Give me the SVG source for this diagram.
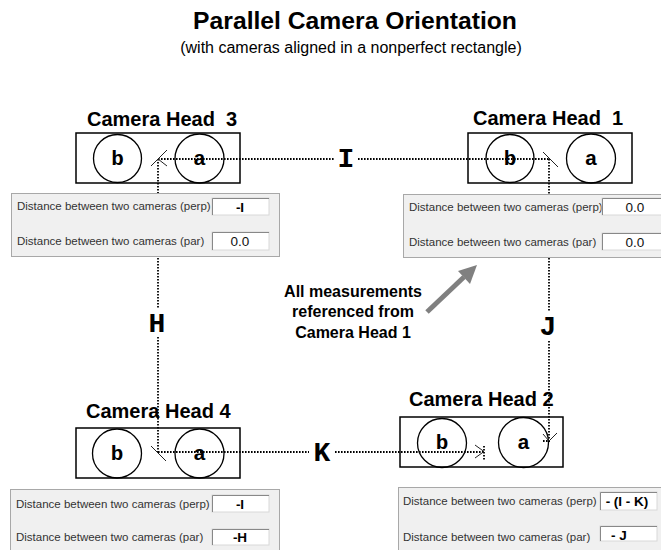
<svg xmlns="http://www.w3.org/2000/svg" width="661" height="550" viewBox="0 0 661 550">
<style>
.title{font-family:"Liberation Sans",Arial,sans-serif;font-weight:bold;font-size:24.7px;fill:#000;text-anchor:middle}
.sub{font-family:"Liberation Sans",Arial,sans-serif;font-size:16px;fill:#000;text-anchor:middle}
.head{font-family:"Liberation Sans",Arial,sans-serif;font-weight:bold;font-size:20px;fill:#000}
.box{fill:none;stroke:#000;stroke-width:1.5}
.cam{fill:none;stroke:#000;stroke-width:1.3}
.lens{font-family:"Liberation Mono","Courier New",monospace;font-weight:bold;font-size:21px;fill:#000;text-anchor:middle}
.dim{font-family:"Liberation Mono","Courier New",monospace;font-weight:bold;font-size:28px;fill:#000;text-anchor:middle}
.dot{fill:none;stroke:#000;stroke-width:1.8;stroke-dasharray:1.6 1.4}
.tip{fill:none;stroke:#222;stroke-width:1}
.panel{fill:#f0f0f0;stroke:#a8a8a8;stroke-width:1}
.lbl{font-family:"Liberation Sans",Arial,sans-serif;font-size:11.5px;fill:#333}
.inp{fill:#fff;stroke:#d8d8d8;stroke-width:1}
.inpe{fill:none;stroke:#888;stroke-width:1}
.val{font-family:"Liberation Sans",Arial,sans-serif;font-size:13.5px;fill:#111;text-anchor:middle}
.valb{font-family:"Liberation Sans",Arial,sans-serif;font-size:13.5px;font-weight:bold;fill:#000;text-anchor:middle}
.note{font-family:"Liberation Sans",Arial,sans-serif;font-weight:bold;font-size:16px;fill:#000;text-anchor:middle}
</style>
<rect width="661" height="550" fill="#fff"/>
<text class="title" x="355" y="29">Parallel Camera Orientation</text>
<text class="sub" x="351" y="53">(with cameras aligned in a nonperfect rectangle)</text>

<g id="camera-head-3">
<text class="head" x="87" y="126" xml:space="preserve">Camera Head  3</text>
<rect class="box" x="76" y="133" width="164" height="50"/>
<circle class="cam" cx="117.5" cy="158.5" r="24"/>
<circle class="cam" cx="199.5" cy="158.5" r="24.5"/>
<text class="lens" x="117.5" y="165">b</text>
<text class="lens" x="199.5" y="165">a</text>
</g>
<g id="camera-head-1">
<text class="head" x="473" y="125" xml:space="preserve">Camera Head  1</text>
<rect class="box" x="468" y="133" width="164" height="50"/>
<circle class="cam" cx="510" cy="158.5" r="24"/>
<circle class="cam" cx="591" cy="158.5" r="24.5"/>
<text class="lens" x="510" y="165">b</text>
<text class="lens" x="591" y="165">a</text>
</g>
<g id="camera-head-4">
<text class="head" x="86" y="418">Camera Head 4</text>
<rect class="box" x="76" y="428" width="164" height="50"/>
<circle class="cam" cx="117" cy="453.5" r="24.5"/>
<circle class="cam" cx="199.5" cy="453.5" r="24.5"/>
<text class="lens" x="117" y="460">b</text>
<text class="lens" x="199.5" y="460">a</text>
</g>
<g id="camera-head-2">
<text class="head" x="409" y="406">Camera Head 2</text>
<rect class="box" x="400" y="417" width="163" height="50"/>
<circle class="cam" cx="442" cy="443" r="24.5"/>
<circle class="cam" cx="523.5" cy="442.5" r="25"/>
<text class="lens" x="442" y="449">b</text>
<text class="lens" x="523.5" y="449">a</text>
</g>

<g id="connectors">
<path class="dot" d="M158 159H335M358 159H550"/>
<path class="dot" d="M158 159V309M158 337V452"/>
<path class="dot" d="M158 452H309M335 452H484"/>
<path class="dot" d="M549 159V312M549 341V441"/>
<path class="dot" d="M484 446V460M543 441H550"/>
<path class="tip" d="M151 166L167 150M158 159L167 166"/>
<path class="tip" d="M543 152L558 167"/>
<path class="tip" d="M151 446L166 461"/>
<path class="tip" d="M475 445L484 451.5L475 458"/>
<path class="tip" d="M543 434L549 441L557 433"/>
<text class="dim" x="346" y="167">I</text>
<text class="dim" x="157" y="332">H</text>
<text class="dim" x="322" y="461">K</text>
<text class="dim" x="548" y="335">J</text>
</g>

<g id="panel-3">
<rect class="panel" x="11.5" y="193.5" width="268" height="63"/>
<text class="lbl" x="17" y="210">Distance between two cameras (perp)</text>
<text class="lbl" x="17" y="245">Distance between two cameras (par)</text>
<rect class="inp" x="212" y="198" width="57" height="17"/>
<path class="inpe" d="M212.5 215V198.5H269"/>
<text class="valb" x="240" y="212">-I</text>
<rect class="inp" x="212" y="232" width="57" height="18"/>
<path class="inpe" d="M212.5 250V232.5H269"/>
<text class="val" x="240" y="246">0.0</text>
</g>
<g id="panel-1">
<rect class="panel" x="403.5" y="194.5" width="262" height="63"/>
<text class="lbl" x="409" y="211">Distance between two cameras (perp)</text>
<text class="lbl" x="409" y="246">Distance between two cameras (par)</text>
<rect class="inp" x="602" y="198" width="62" height="17"/>
<path class="inpe" d="M602.5 215V198.5H664"/>
<text class="val" x="635" y="212">0.0</text>
<rect class="inp" x="602" y="233" width="62" height="17"/>
<path class="inpe" d="M602.5 250V233.5H664"/>
<text class="val" x="635" y="247">0.0</text>
</g>
<g id="panel-4">
<rect class="panel" x="10.5" y="489.5" width="269" height="65"/>
<text class="lbl" x="16" y="508">Distance between two cameras (perp)</text>
<text class="lbl" x="16" y="541">Distance between two cameras (par)</text>
<rect class="inp" x="212" y="495" width="57" height="17"/>
<path class="inpe" d="M212.5 512V495.5H269"/>
<text class="valb" x="240" y="509">-I</text>
<rect class="inp" x="212" y="529" width="57" height="16"/>
<path class="inpe" d="M212.5 545V529.5H269"/>
<text class="valb" x="240" y="542">-H</text>
</g>
<g id="panel-2">
<rect class="panel" x="398.5" y="487.5" width="267" height="67"/>
<text class="lbl" x="403" y="505">Distance between two cameras (perp)</text>
<text class="lbl" x="403" y="541">Distance between two cameras (par)</text>
<rect class="inp" x="600" y="492" width="57" height="18"/>
<path class="inpe" d="M600.5 510V492.5H657"/>
<text class="valb" x="627" y="506">- (I - K)</text>
<rect class="inp" x="600" y="526" width="57" height="15"/>
<path class="inpe" d="M600.5 541V526.5H657"/>
<text class="valb" x="619" y="540">- J</text>
</g>

<g id="note">
<text class="note" x="353" y="297">All measurements</text>
<text class="note" x="353" y="317">referenced from</text>
<text class="note" x="353" y="338">Camera Head 1</text>
<line x1="427" y1="312" x2="464" y2="277" stroke="#808080" stroke-width="5"/>
<polygon points="477,265 470,284 458,271" fill="#808080"/>
</g>
</svg>
